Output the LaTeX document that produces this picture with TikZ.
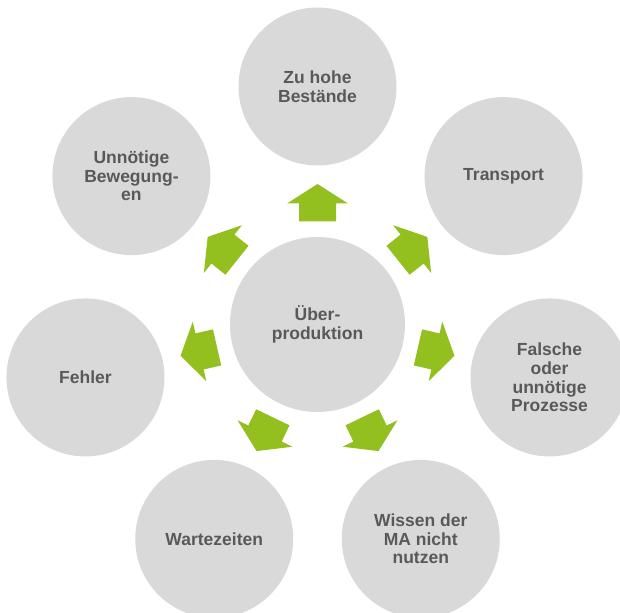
\documentclass[tikz,border=0pt]{standalone}
\usepackage{fontspec}
\setmainfont{Liberation Sans}
\definecolor{circgray}{HTML}{D9D9D9}
\definecolor{txtgray}{HTML}{595959}
\definecolor{arrgreen}{HTML}{93C01F}
\begin{document}
\begin{tikzpicture}[x=1pt,y=1pt,
  bub/.style={circle, fill=circgray, minimum size=158pt, inner sep=0pt,
    text=txtgray, font=\bfseries\fontsize{17.5}{18.6}\selectfont, align=center},
  hub/.style={bub, minimum size=175pt},
  blockarrow/.style={fill=arrgreen}]
\useasboundingbox (0,0) rectangle (620,612);
\clip (0,0) rectangle (620,612);
\node[hub] (c) at (317.5,287.5) {Über-\\produktion};
\node[bub] (b1) at ([shift={(90:238)}]c.center) {Zu hohe\\Bestände};
\node[bub] (b2) at ([shift={(38.571:238)}]c.center) {Transport};
\node[bub] (b3) at ([shift={(-12.857:238)}]c.center) {Falsche\\oder\\unnötige\\Prozesse};
\node[bub] (b4) at ([shift={(-64.286:238)}]c.center) {Wissen der\\MA nicht\\nutzen};
\node[bub] (b5) at ([shift={(-115.714:238)}]c.center) {Wartezeiten};
\node[bub] (b6) at ([shift={(-167.143:238)}]c.center) {Fehler};
\node[bub] (b7) at ([shift={(141.429:238)}]c.center) {Unnötige\\Bewegung-\\en};
\foreach \a in {90,38.571,-12.857,-64.286,-115.714,-167.143,141.429}{
  \fill[blockarrow, shift={(c.center)}, rotate=\a]
    (103,-18.5) -- (121,-18.5) -- (121,-30.5) -- (140.5,0) -- (121,30.5)
    -- (121,18.5) -- (103,18.5) -- cycle;
}
\end{tikzpicture}
\end{document}
